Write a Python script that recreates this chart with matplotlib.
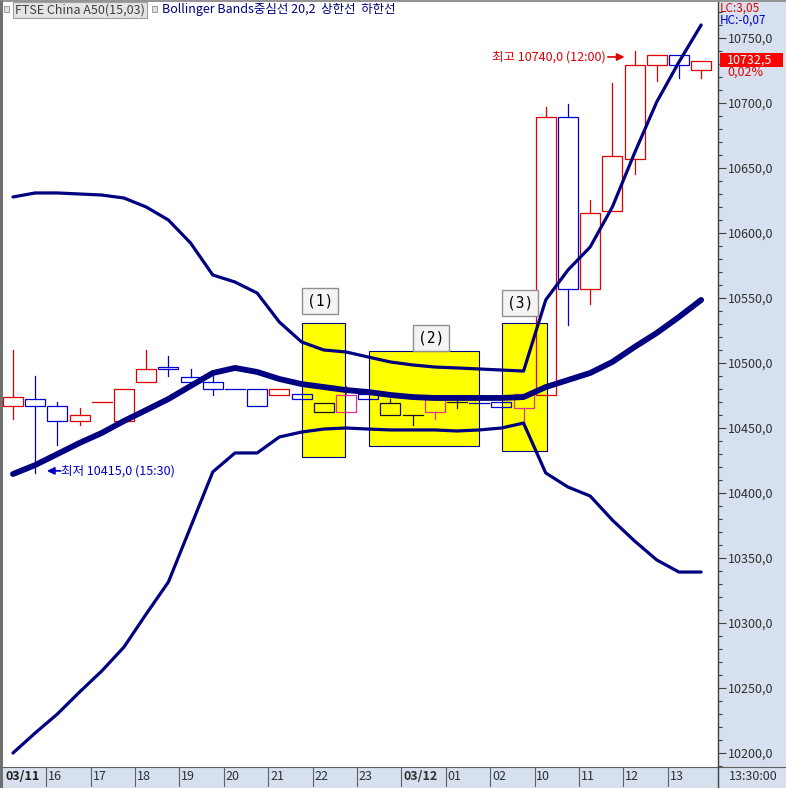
import matplotlib
matplotlib.use("Agg")
import matplotlib.pyplot as plt
from matplotlib.patches import Rectangle
from matplotlib.ticker import MultipleLocator, FixedLocator

plt.rcParams['font.family'] = ['Liberation Sans Narrow', 'Noto Sans CJK KR', 'DejaVu Sans']

# ---------------- data ----------------
opens  = [10467, 10472, 10467, 10455, 10470, 10455, 10485, 10497, 10489, 10485,
          10480, 10480, 10475, 10476, 10469, 10462, 10476, 10469, 10460, 10462,
          10470, 10469, 10470, 10465, 10475, 10689, 10557, 10617, 10657, 10729,
          10737, 10725]
highs  = [10510, 10490, 10470, 10465, 10470, 10480, 10510, 10505, 10495, 10490,
          10480, 10480, 10480, 10476, 10469, 10482, 10476, 10472, 10460, 10472,
          10475, 10469, 10470, 10476, 10697, 10699, 10625, 10715, 10740, 10737,
          10737, 10732.5]
lows   = [10457, 10415, 10437, 10452, 10470, 10455, 10485, 10490, 10485, 10475,
          10480, 10467, 10475, 10472, 10462, 10462, 10472, 10460, 10452, 10457,
          10465, 10469, 10466, 10450, 10475, 10529, 10545, 10617, 10645, 10717,
          10719, 10719]
closes = [10474, 10467, 10455, 10460, 10470, 10480, 10495, 10495, 10485, 10480,
          10480, 10467, 10480, 10472, 10462, 10475, 10472, 10460, 10460, 10472,
          10470, 10469, 10466, 10476, 10689, 10557, 10615, 10659, 10729, 10737,
          10729, 10732.5]
# explicit up/down flag as shown by the chart colour (1 = red/up, 0 = blue/down)
up_flag = [1, 0, 0, 1, 1, 1, 1, 0, 0, 0, 0, 0, 1, 0, 0, 1, 0, 0, 0, 1,
           0, 0, 0, 1, 1, 0, 1, 1, 1, 1, 0, 1]

upper  = [10627.7, 10630.8, 10630.8, 10630.0, 10629.2, 10626.9, 10620.0, 10610.0,
          10592.3, 10567.7, 10562.3, 10553.8, 10531.5, 10516.2, 10510.0, 10508.5,
          10504.6, 10500.8, 10498.5, 10496.9, 10496.2, 10495.4, 10494.6, 10493.8,
          10548.5, 10571.5, 10589.2, 10620.0, 10661.5, 10700.8, 10731.5, 10760.0]
middle = [10414.6, 10421.5, 10430.0, 10438.5, 10446.2, 10455.4, 10463.8, 10472.3,
          10482.3, 10492.3, 10496.2, 10493.1, 10487.7, 10483.8, 10481.5, 10479.2,
          10477.7, 10475.4, 10473.8, 10473.1, 10473.1, 10473.1, 10473.1, 10473.8,
          10481.5, 10486.9, 10492.3, 10500.8, 10512.3, 10523.1, 10535.4, 10548.5]
lower  = [10200.0, 10215.4, 10230.0, 10246.9, 10263.1, 10281.5, 10306.9, 10331.5,
          10373.8, 10416.2, 10430.8, 10430.8, 10443.1, 10446.9, 10449.2, 10450.0,
          10449.2, 10448.5, 10448.5, 10448.5, 10447.7, 10448.5, 10450.0, 10453.8,
          10415.4, 10404.6, 10397.7, 10379.2, 10363.1, 10348.5, 10339.2, 10339.2]

# time axis labels (label, boundary position in candle-index units)
time_labels = ['16', '17', '18', '19', '20', '21', '22', '23', '03/12',
               '01', '02', '10', '11', '12', '13']
time_pos    = [1.5, 3.5, 5.5, 7.5, 9.5, 11.5, 13.5, 15.5, 17.5,
               19.5, 21.5, 23.5, 25.5, 27.5, 29.5]

y_ticks = [10200, 10250, 10300, 10350, 10400, 10450, 10500, 10550,
           10600, 10650, 10700, 10750]

# highlight zones
zone_labels = ['(1)', '(2)', '(3)']
zone_x0 = [13.02, 16.04, 22.03]
zone_x1 = [14.95, 20.99, 24.05]
zone_y0 = [10427.7, 10436.2, 10432.3]
zone_y1 = [10530.8, 10509.2, 10530.8]
zone_label_x = [13.83, 18.83, 22.84]
zone_label_y = [10547.7, 10519.2, 10546.2]
# candles that appear inside the highlight zones
highlighted = [14, 15, 17, 18, 19, 20, 23]

last_price = 10732.5
low_value, low_idx = 10415.0, 1
high_value, high_idx = 10740.0, 28

# ---------------- layout ----------------
W, H = 786, 788
fig = plt.figure(figsize=(W / 100, H / 100), dpi=100)
fig.patch.set_facecolor('white')

def fx(px):
    return px / W

def fy(py):
    return 1 - py / H

PANEL = '#D6E0EE'
NAVY = '#000080'
RED = '#E00000'
BLUE = '#0000CC'

# right price panel background
bg_r = fig.add_axes([fx(718), fy(787), fx(786) - fx(718), fy(2) - fy(787)])
bg_r.set_facecolor(PANEL)
bg_r.set_xticks([]); bg_r.set_yticks([])
for s in bg_r.spines.values():
    s.set_visible(False)

# bottom time strip
strip = fig.add_axes([fx(3), fy(787), fx(718) - fx(3), fy(767) - fy(787)])
strip.set_facecolor(PANEL)
strip.set_xticks([]); strip.set_yticks([])
for s in strip.spines.values():
    s.set_visible(False)

ax = fig.add_axes([fx(3), fy(767), fx(718) - fx(3), fy(2) - fy(767)])
x_lo, x_hi = -0.45, 31.76
ax.set_xlim(x_lo, x_hi)
ax.set_ylim(10189.23, 10777.69)
strip.set_xlim(x_lo, x_hi)
strip.set_ylim(0, 1)

# highlight zones
for x0, x1, y0, y1 in zip(zone_x0, zone_x1, zone_y0, zone_y1):
    ax.add_patch(Rectangle((x0, y0), x1 - x0, y1 - y0, facecolor='#FFFF00',
                           edgecolor=NAVY, linewidth=0.8, zorder=1))

# candles
n = len(opens)
for i in range(n):
    o, h, l, c = opens[i], highs[i], lows[i], closes[i]
    is_up = up_flag[i] == 1
    if i in highlighted:
        col = '#E0309A' if is_up else '#101030'
    else:
        col = RED if is_up else BLUE
    top, bot = max(o, c), min(o, c)
    if h > top:
        ax.plot([i, i], [top, h], color=col, lw=0.9, zorder=3)
    if l < bot:
        ax.plot([i, i], [l, bot], color=col, lw=0.9, zorder=3)
    if top - bot < 0.5:
        ax.plot([i - 0.45, i + 0.45], [top, top], color=col, lw=0.9, zorder=3)
    else:
        ax.add_patch(Rectangle((i - 0.45, bot), 0.9, top - bot, facecolor='none',
                               edgecolor=col, linewidth=0.9, zorder=3))

# bollinger bands
xs = list(range(n))
ax.plot(xs, upper, color=NAVY, lw=2.3, zorder=4, solid_capstyle='round')
ax.plot(xs, lower, color=NAVY, lw=2.3, zorder=4, solid_capstyle='round')
ax.plot(xs, middle, color=NAVY, lw=4.2, zorder=4, solid_capstyle='round')

# zone labels
for lab, lx, ly in zip(zone_labels, zone_label_x, zone_label_y):
    ax.text(lx, ly, lab, ha='center', va='center', fontsize=10.5,
            family=['DejaVu Sans Mono'], color='black', zorder=6,
            bbox=dict(boxstyle='square,pad=0.35', facecolor='#F4F4F4',
                      edgecolor='#909090', linewidth=1))

# low / high annotations
ax.annotate('', xy=(low_idx + 0.53, low_value + 2), xytext=(low_idx + 1.15, low_value + 2),
            arrowprops=dict(arrowstyle='-|>', color=BLUE, lw=1.2, mutation_scale=11,
                            shrinkA=0, shrinkB=0), zorder=6)
ax.text(low_idx + 1.17, low_value + 2, '최저 10415,0 (15:30)', color=BLUE,
        fontsize=9, ha='left', va='center', zorder=6)
ax.annotate('', xy=(high_idx - 0.45, high_value - 4.6), xytext=(high_idx - 1.2, high_value - 4.6),
            arrowprops=dict(arrowstyle='-|>', color=RED, lw=1.2, mutation_scale=11,
                            shrinkA=0, shrinkB=0), zorder=6)
ax.text(high_idx - 1.3, high_value - 4.6, '최고 10740,0 (12:00)', color=RED,
        fontsize=9, ha='right', va='center', zorder=6)

# axes styling
for s in ['left', 'top', 'bottom']:
    ax.spines[s].set_visible(False)
ax.spines['right'].set_color('#404040')
ax.spines['right'].set_linewidth(1)
ax.set_xticks([])
ax.yaxis.tick_right()
ax.yaxis.set_major_locator(FixedLocator(y_ticks))
ax.yaxis.set_minor_locator(MultipleLocator(10))
ax.set_yticklabels([f"{v:.1f}".replace('.', ',') for v in y_ticks])
ax.tick_params(axis='y', which='major', direction='out', length=6, width=0.8,
               color='#404040', labelsize=9, labelcolor='#303030', pad=1)
ax.tick_params(axis='y', which='minor', direction='out', length=3, width=0.8,
               color='#404040')

# time strip
strip.text(x_lo + 0.1, 0.5, '03/11', ha='left', va='center', fontsize=9,
           fontweight='bold', color='#202020')
for lab, p in zip(time_labels, time_pos):
    strip.axvline(p, color='#606060', lw=0.8)
    bold = '/' in lab
    strip.text(p + 0.08, 0.5, lab, ha='left', va='center', fontsize=9,
               fontweight='bold' if bold else 'normal', color='#303030')

# frame lines
fig.add_artist(plt.Line2D([fx(3), fx(786)], [fy(767), fy(767)], color='#606060', lw=0.8))
fig.add_artist(plt.Line2D([fx(718), fx(718)], [fy(767), fy(787)], color='#404040', lw=1))
fig.add_artist(Rectangle((0, 0), fx(3), 1, transform=fig.transFigure,
                         facecolor='#707070', edgecolor='none'))
fig.add_artist(plt.Line2D([0, 1], [fy(1), fy(1)], color='#808080', lw=1.2))
fig.add_artist(plt.Line2D([0, 1], [fy(787.5), fy(787.5)], color='#606060', lw=1))
fig.text(fx(729), fy(777), '13:30:00', ha='left', va='center', fontsize=9, color='#303030')

# right panel info
fig.text(fx(720), fy(8), 'LC:3,05', color=RED, fontsize=8.5, ha='left', va='center')
fig.text(fx(720), fy(20.5), 'HC:-0,07', color=BLUE, fontsize=8.5, ha='left', va='center')
fig.add_artist(Rectangle((fx(720), fy(67)), fx(783) - fx(720), fy(53) - fy(67),
                         transform=fig.transFigure, facecolor='#FF0000', edgecolor='none'))
fig.text(fx(727), fy(60), f"{last_price:.1f}".replace('.', ','), color='white',
         fontsize=9, ha='left', va='center')
fig.text(fx(727), fy(72.5), '0,02%', color=RED, fontsize=9, ha='left', va='center')

# legend at top
fig.add_artist(Rectangle((fx(4), fy(12)), fx(5), fy(6) - fy(12), transform=fig.transFigure,
                         facecolor='#E0E0E0', edgecolor='#909090', lw=0.6))
fig.text(fx(15), fy(10), 'FTSE China A50(15,03)', color='#404040', fontsize=9,
         ha='left', va='center',
         bbox=dict(boxstyle='square,pad=0.15', facecolor='#E4E4E4', edgecolor='#A0A0A0', lw=0.8))
fig.add_artist(Rectangle((fx(152), fy(12)), fx(5), fy(6) - fy(12), transform=fig.transFigure,
                         facecolor='#E0E0E0', edgecolor='#909090', lw=0.6))
fig.text(fx(162), fy(10), 'Bollinger Bands중심선 20,2  상한선  하한선', color=NAVY,
         fontsize=9, ha='left', va='center')

fig.savefig('out.png', dpi=100)
